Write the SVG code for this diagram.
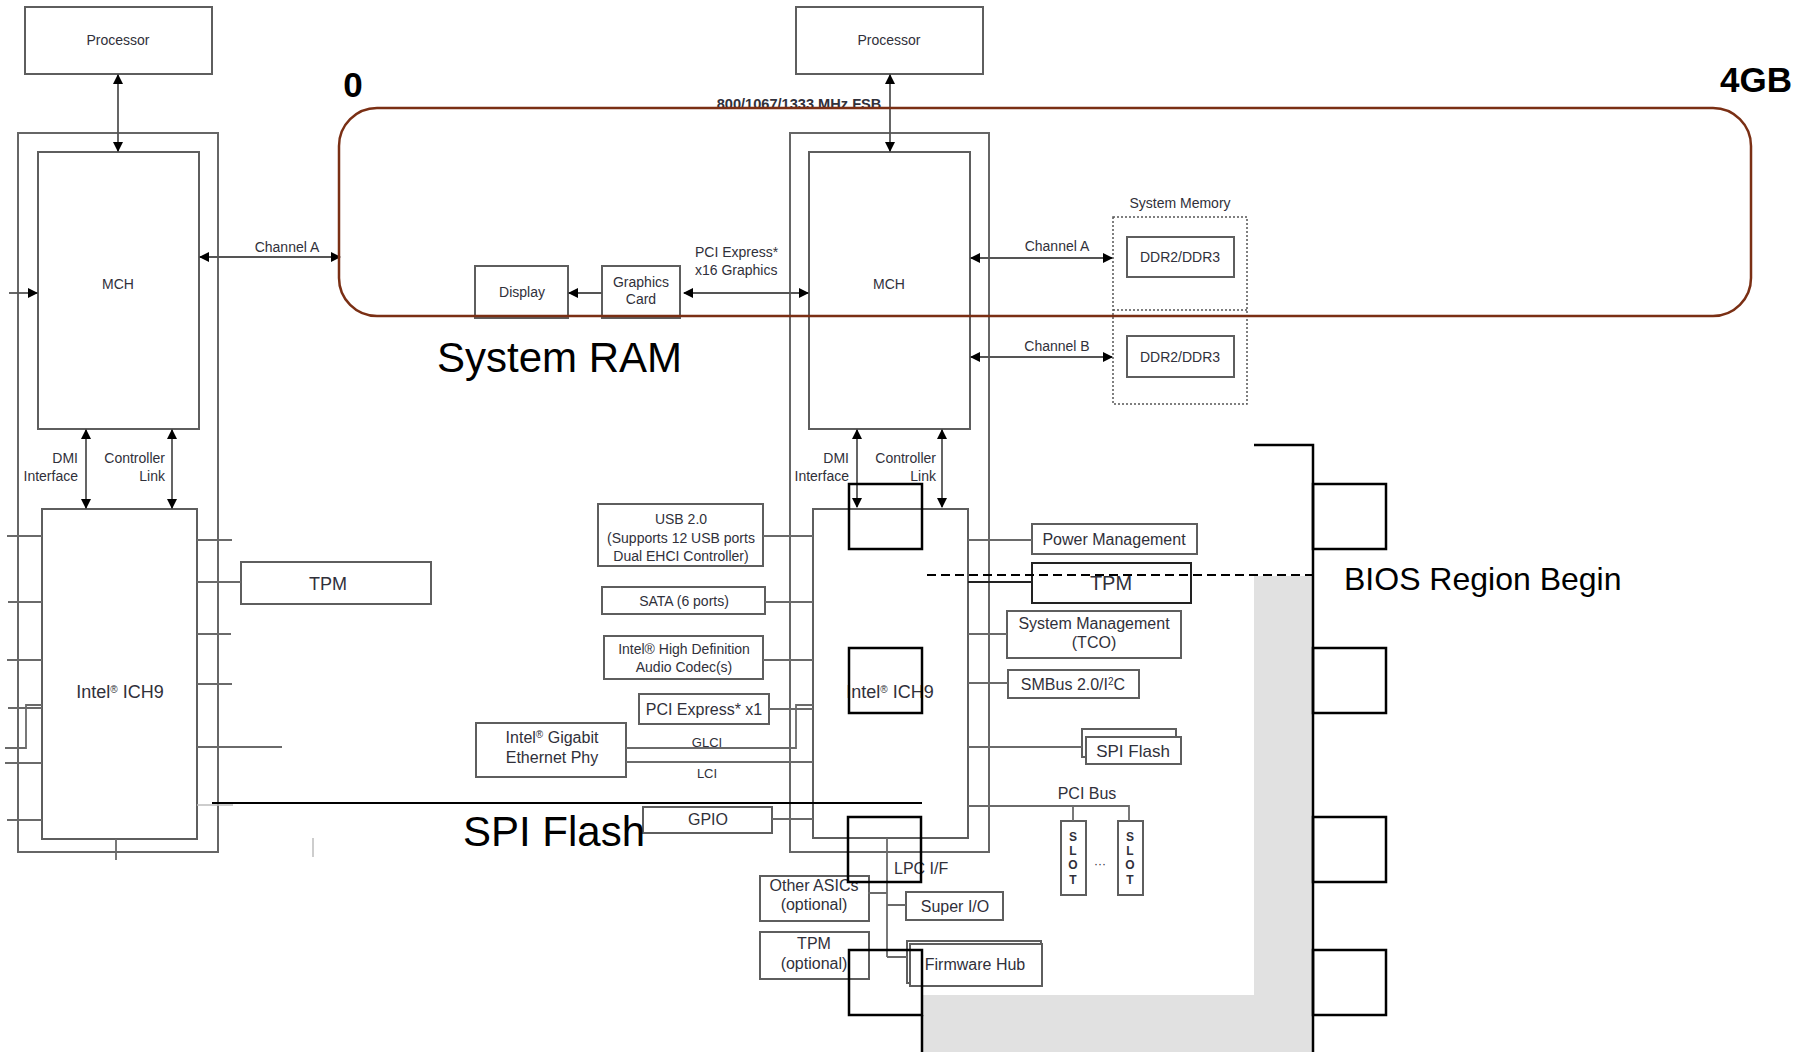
<svg xmlns="http://www.w3.org/2000/svg" width="1815" height="1052" viewBox="0 0 1815 1052">
<style>
.bx{fill:#fff;stroke:#5e5e5e;stroke-width:2}
.ob{fill:none;stroke:#666;stroke-width:2}
.ln{fill:none;stroke:#6a6a6a;stroke-width:1.8}
.lf{fill:none;stroke:#bdbdbd;stroke-width:1.5}
.ar{fill:none;stroke:#555;stroke-width:1.8;marker-start:url(#ah);marker-end:url(#ah)}
.ae{fill:none;stroke:#555;stroke-width:1.8;marker-end:url(#ah)}
.t{font-family:"Liberation Sans",Arial,sans-serif;font-size:14px;fill:#30303a;text-anchor:middle}
.m{font-size:16px}
.e{text-anchor:end}
.s{text-anchor:start}
.blk{fill:none;stroke:#000;stroke-width:2.5}
.big{font-family:"Liberation Sans",Arial,sans-serif;fill:#000}
.dot{fill:none;stroke:#555;stroke-width:1.5;stroke-dasharray:2 2}
</style>
<defs>
<marker id="ah" markerUnits="userSpaceOnUse" markerWidth="10" markerHeight="10" refX="9" refY="5" orient="auto-start-reverse">
<path d="M0,0 L10,5 L0,10 z" fill="#000"/>
</marker>
</defs>
<rect width="1815" height="1052" fill="#fff"/>

<!-- gray BIOS region -->
<path id="bios-region" d="M1254,576 H1313 V1052 H922 V995 H1254 Z" fill="#e1e1e1"/>

<!-- ===== LEFT DIAGRAM ===== -->
<g id="left-chipset-frame"><rect class="ob" x="18" y="133" width="200" height="719"/></g>
<g id="left-processor"><rect class="bx" x="25" y="7" width="187" height="67"/><text class="t" x="118" y="45">Processor</text></g>
<g id="left-mch"><rect class="bx" x="38" y="152" width="161" height="277"/><text class="t" x="118" y="289">MCH</text></g>
<g id="left-ich9"><rect class="bx" x="42" y="509" width="155" height="330"/><text class="t" x="120" y="698" style="font-size:18px">Intel<tspan style="font-size:10px" baseline-shift="super">®</tspan> ICH9</text></g>
<g id="left-tpm"><rect class="bx" x="241" y="562" width="190" height="42"/><text class="t" x="328" y="590" style="font-size:18px">TPM</text></g>

<!-- ===== RIGHT DIAGRAM ===== -->
<g id="right-chipset-frame"><rect class="ob" x="790" y="133" width="199" height="719"/></g>
<g id="right-processor"><rect class="bx" x="796" y="7" width="187" height="67"/><text class="t" x="889" y="45">Processor</text></g>
<g id="right-mch"><rect class="bx" x="809" y="152" width="161" height="277"/><text class="t" x="889" y="289">MCH</text></g>
<g id="right-ich9"><rect class="bx" x="813" y="509" width="155" height="329"/><text class="t" x="890" y="698" style="font-size:18px">Intel<tspan style="font-size:10px" baseline-shift="super">®</tspan> ICH9</text></g>
<g id="display"><rect class="bx" x="475" y="266" width="93" height="52"/><text class="t" x="522" y="297">Display</text></g>
<g id="graphics-card"><rect class="bx" x="602" y="266" width="78" height="52"/><text class="t" x="641" y="287">Graphics</text><text class="t" x="641" y="304">Card</text></g>
<g id="system-memory"><rect class="dot" x="1113" y="217" width="134" height="187"/><path class="dot" d="M1113,310 H1247"/><text class="t" x="1180" y="208">System Memory</text></g>
<g id="ddr-a"><rect class="bx" x="1127" y="237" width="107" height="40"/><text class="t" x="1180" y="262">DDR2/DDR3</text></g>
<g id="ddr-b"><rect class="bx" x="1127" y="336" width="107" height="41"/><text class="t" x="1180" y="362">DDR2/DDR3</text></g>
<g id="usb"><rect class="bx" x="598" y="504" width="165" height="62"/><text class="t" x="681" y="524">USB 2.0</text><text class="t" x="681" y="543">(Supports 12 USB ports</text><text class="t" x="681" y="561">Dual EHCI Controller)</text></g>
<g id="sata"><rect class="bx" x="602" y="587" width="163" height="27"/><text class="t" x="684" y="606">SATA (6 ports)</text></g>
<g id="audio"><rect class="bx" x="604" y="636" width="159" height="43"/><text class="t" x="684" y="654">Intel® High Definition</text><text class="t" x="684" y="672">Audio Codec(s)</text></g>
<g id="pcie-x1"><rect class="bx" x="639" y="694" width="130" height="30"/><text class="t m" x="704" y="715">PCI Express* x1</text></g>
<g id="gbe"><rect class="bx" x="476" y="723" width="150" height="54"/><text class="t m" x="552" y="743">Intel<tspan style="font-size:10px" baseline-shift="super">®</tspan> Gigabit</text><text class="t m" x="552" y="763">Ethernet Phy</text></g>
<g id="gpio"><rect class="bx" x="643" y="807" width="129" height="26"/><text class="t m" x="708" y="825">GPIO</text></g>
<g id="power-mgmt"><rect class="bx" x="1032" y="524" width="165" height="30"/><text class="t m" x="1114" y="545">Power Management</text></g>
<g id="tpm-right"><rect class="bx" x="1032" y="563" width="159" height="40" style="stroke:#222"/><text class="t" x="1111" y="590" style="font-size:20px">TPM</text></g>
<g id="sys-mgmt"><rect class="bx" x="1007" y="611" width="174" height="47"/><text class="t m" x="1094" y="629">System Management</text><text class="t m" x="1094" y="648">(TCO)</text></g>
<g id="smbus"><rect class="bx" x="1008" y="670" width="131" height="28"/><text class="t m" x="1073" y="690">SMBus 2.0/I<tspan style="font-size:10px" baseline-shift="super">2</tspan>C</text></g>
<g id="spi-flash-box"><rect class="bx" x="1082" y="729" width="94" height="28"/><rect class="bx" x="1086" y="737" width="95" height="27"/><text class="t" x="1133" y="757" style="font-size:17px">SPI Flash</text></g>
<g id="slot-1"><rect class="bx" x="1061" y="821" width="25" height="74"/><text class="t" x="1073" y="841" style="font-size:12px;font-weight:bold">S</text><text class="t" x="1073" y="855" style="font-size:12px;font-weight:bold">L</text><text class="t" x="1073" y="869" style="font-size:12px;font-weight:bold">O</text><text class="t" x="1073" y="884" style="font-size:12px;font-weight:bold">T</text></g>
<g id="slot-2"><rect class="bx" x="1118" y="821" width="25" height="74"/><text class="t" x="1130" y="841" style="font-size:12px;font-weight:bold">S</text><text class="t" x="1130" y="855" style="font-size:12px;font-weight:bold">L</text><text class="t" x="1130" y="869" style="font-size:12px;font-weight:bold">O</text><text class="t" x="1130" y="884" style="font-size:12px;font-weight:bold">T</text></g>
<g id="other-asics"><rect class="bx" x="760" y="876" width="109" height="45"/><text class="t m" x="814" y="891">Other ASICs</text><text class="t m" x="814" y="910">(optional)</text></g>
<g id="tpm-optional"><rect class="bx" x="760" y="932" width="109" height="47"/><text class="t m" x="814" y="949">TPM</text><text class="t m" x="814" y="969">(optional)</text></g>
<g id="super-io"><rect class="bx" x="906" y="892" width="97" height="28"/><text class="t m" x="955" y="912">Super I/O</text></g>
<g id="firmware-hub"><rect class="bx" x="907" y="941" width="134" height="42"/><rect class="bx" x="910" y="944" width="132" height="42"/><text class="t m" x="975" y="970">Firmware Hub</text></g>

<!-- ===== CONNECTORS ===== -->
<g id="connectors">
<!-- left -->
<path class="ar" d="M118,75 V151"/>
<path class="ar" d="M200,257 H340"/>
<path class="ae" d="M9,293 H37"/>
<path class="ar" d="M86,430 V508"/>
<path class="ar" d="M172,430 V508"/>
<path class="ln" d="M7,536 H42 M8,602 H42 M7,660 H42 M8,708 H42 M42,705 H26 V748 H5 M5,763 H42 M7,820 H42"/>
<path class="ln" d="M197,540 H232 M197,582 H241 M197,634 H231 M197,684 H232 M197,747 H282 M116,839 V860"/>
<path class="lf" d="M197,805 H233 M313,838 V857"/>
<!-- right -->
<path class="ar" d="M890,75 V151"/>
<path class="ar" d="M684,293 H808"/>
<path class="ae" d="M602,293 H569"/>
<path class="ar" d="M971,258 H1112"/>
<path class="ar" d="M971,357 H1112"/>
<path class="ar" d="M857,430 V507"/>
<path class="ar" d="M942,430 V507"/>
<path class="ln" d="M763,536 H813 M765,602 H813 M763,660 H813 M769,709 H813 M626,748 H796 V705 H813 M626,762 H813 M772,819 H813"/>
<path class="ln" d="M968,540 H1032 M968,634 H1007 M968,683 H1008 M968,747 H1082 M968,806 H1129 V821 M1073,806 V821"/>
<path d="M968,582 H1032" fill="none" stroke="#222" stroke-width="2"/>
<path class="ln" d="M887,838 V957 M868,893 H887 M887,905 H906 M887,957 H907"/>
</g>

<!-- connector labels -->
<g id="labels">
<text class="t" x="287" y="252">Channel A</text>
<text class="t e" x="78" y="463">DMI</text>
<text class="t e" x="78" y="481">Interface</text>
<text class="t e" x="165" y="463">Controller</text>
<text class="t e" x="165" y="481">Link</text>
<text class="t" x="799" y="109" style="font-weight:bold;font-size:14.6px">800/1067/1333 MHz FSB</text>
<text class="t s" x="695" y="257">PCI Express*</text>
<text class="t s" x="695" y="275">x16 Graphics</text>
<text class="t" x="1057" y="251">Channel A</text>
<text class="t" x="1057" y="351">Channel B</text>
<text class="t e" x="849" y="463">DMI</text>
<text class="t e" x="849" y="481">Interface</text>
<text class="t e" x="936" y="463">Controller</text>
<text class="t e" x="936" y="481">Link</text>
<text class="t" x="707" y="747" style="font-size:13px">GLCI</text>
<text class="t" x="707" y="778" style="font-size:13px">LCI</text>
<text class="t m" x="1087" y="799">PCI Bus</text>
<text class="t" x="1100" y="868" style="font-size:12px">···</text>
<text class="t m s" x="894" y="874">LPC I/F</text>
</g>

<!-- ===== OVERLAY ===== -->
<g id="system-ram-region">
<rect x="339" y="108" width="1412" height="208" rx="38" ry="38" fill="none" stroke="#7a2f14" stroke-width="2.5"/>
<text class="big" x="353" y="97" text-anchor="middle" style="font-size:35px;font-weight:bold">0</text>
<text class="big" x="1792" y="92" text-anchor="end" style="font-size:35px;font-weight:bold">4GB</text>
<text class="big" x="437" y="372" style="font-size:42px">System RAM</text>
</g>
<g id="spi-flash-region">
<path d="M212,803 H922" fill="none" stroke="#000" stroke-width="2"/>
<text class="big" x="463" y="846" style="font-size:42px">SPI Flash</text>
</g>
<g id="bios-map">
<path class="blk" d="M1254,445 H1313 V1052"/>
<path class="blk" d="M922,1015 V1052"/>
<rect class="blk" x="849" y="484" width="73" height="65"/>
<rect class="blk" x="849" y="648" width="73" height="65"/>
<rect class="blk" x="848" y="817" width="73" height="65"/>
<rect class="blk" x="849" y="950" width="73" height="65"/>
<rect class="blk" x="1313" y="484" width="73" height="65"/>
<rect class="blk" x="1313" y="648" width="73" height="65"/>
<rect class="blk" x="1313" y="817" width="73" height="65"/>
<rect class="blk" x="1313" y="950" width="73" height="65"/>
<path d="M927,575 H1313" fill="none" stroke="#000" stroke-width="2" stroke-dasharray="9 5"/>
<text class="big" x="1344" y="590" style="font-size:32px">BIOS Region Begin</text>
</g>
</svg>
